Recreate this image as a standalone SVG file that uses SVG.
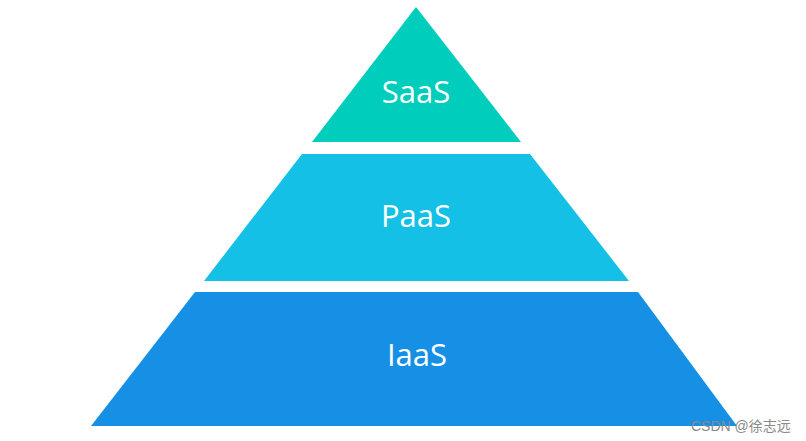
<svg xmlns="http://www.w3.org/2000/svg" width="806" height="441" viewBox="0 0 806 441">
<style>
.lbl{font-family:"Open Sans","Noto Sans",sans-serif;font-size:31px;fill:#ffffff;text-anchor:middle}
.wm{font-family:"Liberation Sans","Noto Sans CJK SC",sans-serif;font-size:14px;fill:#8a8a8a}
</style>
<rect width="806" height="441" fill="#ffffff"/>
<g id="saas">
<polygon points="416,7 521,142 312,142" fill="#00CDBB"/>
<text class="lbl" x="416" y="103">SaaS</text>
</g>
<g id="paas">
<polygon points="302,154 530,154 629,281 204,281" fill="#14C0E6"/>
<text class="lbl" x="416" y="227">PaaS</text>
</g>
<g id="iaas">
<polygon points="195,292 638,292 737,426 91,426" fill="#1590E5"/>
<text class="lbl" x="417" y="366">IaaS</text>
</g>
<g id="connectors"/>
<text class="wm" x="691" y="431">CSDN @徐志远</text>
</svg>
